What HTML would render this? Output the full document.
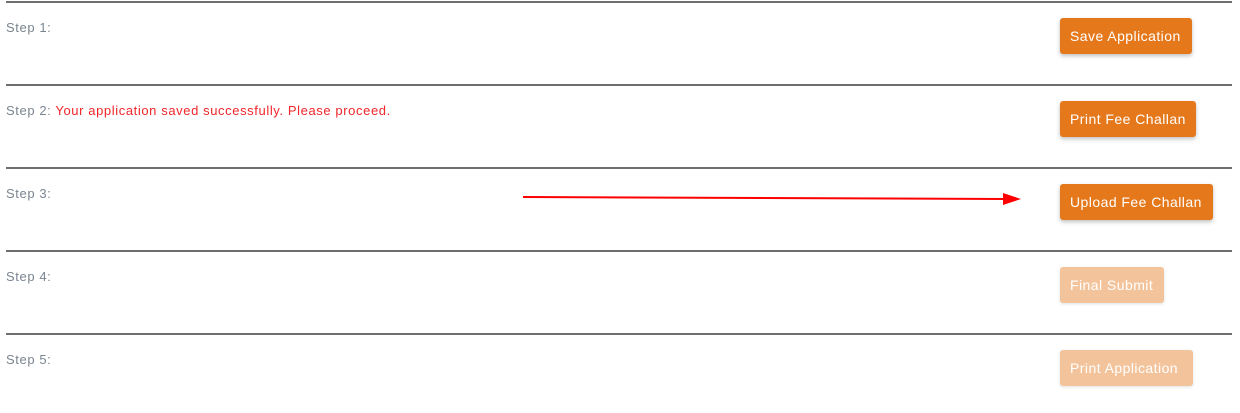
<!DOCTYPE html>
<html><head><style>
body{margin:0;width:1240px;height:413px;background:#fff;position:relative;font-family:"Liberation Sans",sans-serif;overflow:hidden}
.ln{position:absolute;left:6px;width:1226px;height:2px;background:#6e6e6e}
.st{position:absolute;left:6px;font-size:13px;color:#7a8590;letter-spacing:0.6px}
.st span{color:#f0262a}
.b{position:absolute;left:1060px;height:36px;line-height:36px;padding:0 10px;border-radius:3px;background:#e5781b;color:#fff;font-size:14px;letter-spacing:0.45px;box-shadow:0 2px 4px rgba(0,0,0,.25);box-sizing:border-box;white-space:nowrap}
.d{background:#f3c49c;box-shadow:0 1px 3px rgba(0,0,0,.12)}
</style></head><body>
<div class="ln" style="top:1px"></div>
<div class="ln" style="top:84px"></div>
<div class="ln" style="top:167px"></div>
<div class="ln" style="top:250px"></div>
<div class="ln" style="top:333px"></div>
<div class="st" style="top:20px">Step 1:</div>
<div class="st" style="top:103px">Step 2: <span>Your application saved successfully. Please proceed.</span></div>
<div class="st" style="top:186px">Step 3:</div>
<div class="st" style="top:269px">Step 4:</div>
<div class="st" style="top:352px">Step 5:</div>
<div class="b" style="top:18px;width:132px">Save Application</div>
<div class="b" style="top:101px;width:136px">Print Fee Challan</div>
<div class="b" style="top:184px;width:153px">Upload Fee Challan</div>
<div class="b d" style="top:267px;width:104px">Final Submit</div>
<div class="b d" style="top:350px;width:133px">Print Application</div>
<svg style="position:absolute;left:0;top:0" width="1240" height="413">
<line x1="523" y1="197" x2="1005" y2="199" stroke="#f00" stroke-width="2"/>
<polygon points="1003,193 1021,199 1003,205" fill="#f00"/>
</svg>
</body></html>
